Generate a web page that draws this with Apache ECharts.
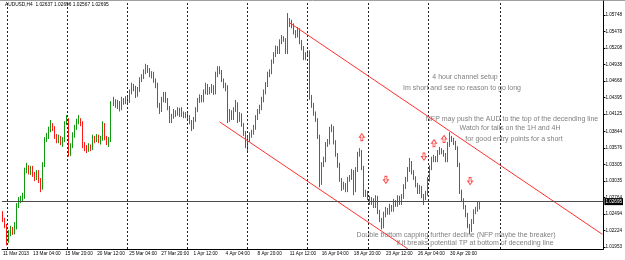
<!DOCTYPE html>
<html>
<head>
<meta charset="utf-8">
<script src="https://cdn.jsdelivr.net/npm/echarts@6/dist/echarts.min.js"></script>
<style>
html, body { margin: 0; padding: 0; background: #fff; }
#chart { width: 625px; height: 260px; }
</style>
</head>
<body>
<div id="chart"></div>
<script>
// AUDUSD H4, 8 Mar 2013 16:00 -> 3 May 2013 08:00
const symbol = 'AUDUSD,H4'
const firstOpen = 1.0251

const closes = [
  1.0239, 1.0230, 1.0210, 1.0218, 1.0224, 1.0220, 1.0230, 1.0262, 1.0272, 1.0274,
  1.0277, 1.0319, 1.0325, 1.0318, 1.0321, 1.0313, 1.0308, 1.0318, 1.0305, 1.0293,
  1.0329, 1.0370, 1.0375, 1.0387, 1.0395, 1.0390, 1.0375, 1.0370, 1.0374, 1.0367,
  1.0370, 1.0398, 1.0403, 1.0351, 1.0360, 1.0379, 1.0390, 1.0400, 1.0403, 1.0398,
  1.0362, 1.0357, 1.0354, 1.0360, 1.0357, 1.0374, 1.0370, 1.0375, 1.0369, 1.0372,
  1.0395, 1.0374, 1.0367, 1.0370, 1.0429, 1.0436, 1.0426, 1.0431, 1.0423, 1.0436,
  1.0432, 1.0437, 1.0434, 1.0449, 1.0459, 1.0455, 1.0444, 1.0452, 1.0468, 1.0473,
  1.0482, 1.0488, 1.0485, 1.0477, 1.0480, 1.0468, 1.0460, 1.0428, 1.0419, 1.0436,
  1.0444, 1.0436, 1.0423, 1.0403, 1.0408, 1.0416, 1.0413, 1.0419, 1.0411, 1.0414,
  1.0410, 1.0411, 1.0408, 1.0400, 1.0392, 1.0403, 1.0419, 1.0434, 1.0441, 1.0436,
  1.0449, 1.0459, 1.0449, 1.0452, 1.0457, 1.0449, 1.0477, 1.0488, 1.0482, 1.0468,
  1.0460, 1.0457, 1.0403, 1.0416, 1.0406, 1.0419, 1.0429, 1.0403, 1.0411, 1.0395,
  1.0382, 1.0362, 1.0370, 1.0379, 1.0382, 1.0390, 1.0406, 1.0416, 1.0423, 1.0436,
  1.0449, 1.0460, 1.0477, 1.0482, 1.0498, 1.0509, 1.0521, 1.0514, 1.0531, 1.0537,
  1.0534, 1.0514, 1.0558, 1.0563, 1.0558, 1.0547, 1.0542, 1.0550, 1.0531, 1.0521,
  1.0504, 1.0511, 1.0514, 1.0441, 1.0428, 1.0414, 1.0403, 1.0375, 1.0300, 1.0329,
  1.0338, 1.0362, 1.0367, 1.0387, 1.0390, 1.0367, 1.0346, 1.0329, 1.0305, 1.0292,
  1.0297, 1.0289, 1.0305, 1.0308, 1.0318, 1.0289, 1.0321, 1.0346, 1.0351, 1.0325,
  1.0280, 1.0284, 1.0275, 1.0267, 1.0272, 1.0262, 1.0275, 1.0253, 1.0239, 1.0230,
  1.0248, 1.0256, 1.0251, 1.0261, 1.0256, 1.0269, 1.0264, 1.0275, 1.0267, 1.0277,
  1.0293, 1.0305, 1.0321, 1.0333, 1.0318, 1.0308, 1.0297, 1.0285, 1.0292, 1.0279,
  1.0275, 1.0282, 1.0305, 1.0325, 1.0338, 1.0341, 1.0338, 1.0349, 1.0354, 1.0351,
  1.0346, 1.0338, 1.0362, 1.0374, 1.0370, 1.0365, 1.0357, 1.0329, 1.0285, 1.0272,
  1.0261, 1.0248, 1.0230, 1.0223, 1.0236, 1.0253, 1.0256, 1.02637, 1.02695
]

const highs = [
  1.0254, 1.0243, 1.0233, 1.0223, 1.0230, 1.0228, 1.0236, 1.0267, 1.0277, 1.0279,
  1.0284, 1.0325, 1.0333, 1.0329, 1.0328, 1.0328, 1.0318, 1.0321, 1.0321, 1.0308,
  1.0334, 1.0375, 1.0382, 1.0392, 1.0403, 1.0398, 1.0393, 1.0380, 1.0379, 1.0377,
  1.0375, 1.0401, 1.0411, 1.0406, 1.0365, 1.0383, 1.0395, 1.0405, 1.0411, 1.0406,
  1.0401, 1.0367, 1.0362, 1.0365, 1.0363, 1.0379, 1.0377, 1.0380, 1.0379, 1.0377,
  1.0401, 1.0398, 1.0377, 1.0375, 1.0434, 1.0441, 1.0437, 1.0436, 1.0434, 1.0441,
  1.0439, 1.0442, 1.0441, 1.0453, 1.0464, 1.0462, 1.0459, 1.0457, 1.0473, 1.0478,
  1.0486, 1.0495, 1.0493, 1.0488, 1.0483, 1.0482, 1.0471, 1.0464, 1.0431, 1.0441,
  1.0449, 1.0449, 1.0439, 1.0426, 1.0413, 1.0421, 1.0419, 1.0424, 1.0423, 1.0424,
  1.0417, 1.0416, 1.0414, 1.0411, 1.0403, 1.0408, 1.0424, 1.0439, 1.0445, 1.0444,
  1.0453, 1.0464, 1.0462, 1.0457, 1.0462, 1.0460, 1.0482, 1.0491, 1.0491, 1.0485,
  1.0471, 1.0464, 1.0460, 1.0421, 1.0419, 1.0424, 1.0436, 1.0432, 1.0416, 1.0414,
  1.0398, 1.0385, 1.0375, 1.0383, 1.0387, 1.0395, 1.0411, 1.0421, 1.0428, 1.0441,
  1.0453, 1.0465, 1.0482, 1.0486, 1.0502, 1.0514, 1.0525, 1.0524, 1.0535, 1.0542,
  1.0540, 1.0537, 1.0578, 1.0570, 1.0567, 1.0561, 1.0550, 1.0555, 1.0553, 1.0534,
  1.0524, 1.0514, 1.0517, 1.0517, 1.0444, 1.0431, 1.0417, 1.0406, 1.0379, 1.0334,
  1.0343, 1.0367, 1.0372, 1.0392, 1.0396, 1.0393, 1.0370, 1.0349, 1.0333, 1.0308,
  1.0302, 1.0300, 1.0310, 1.0313, 1.0323, 1.0321, 1.0326, 1.0351, 1.0357, 1.0354,
  1.0328, 1.0289, 1.0287, 1.0279, 1.0277, 1.0275, 1.0280, 1.0279, 1.0256, 1.0243,
  1.0253, 1.0261, 1.0259, 1.0266, 1.0264, 1.0274, 1.0272, 1.0280, 1.0279, 1.0282,
  1.0298, 1.0310, 1.0326, 1.0341, 1.0336, 1.0321, 1.0311, 1.0300, 1.0297, 1.0295,
  1.0282, 1.0287, 1.0310, 1.0329, 1.0343, 1.0346, 1.0344, 1.0354, 1.0359, 1.0357,
  1.0354, 1.0349, 1.0367, 1.0383, 1.0377, 1.0374, 1.0369, 1.0360, 1.0333, 1.0289,
  1.0275, 1.0264, 1.0251, 1.0233, 1.0241, 1.0257, 1.0261, 1.0269, 1.02696
]

const lows = [
  1.0236, 1.0226, 1.0198, 1.0202, 1.0213, 1.0215, 1.0216, 1.0224, 1.0259, 1.0267,
  1.0270, 1.0274, 1.0316, 1.0314, 1.0313, 1.0310, 1.0303, 1.0305, 1.0300, 1.0285,
  1.0289, 1.0326, 1.0367, 1.0372, 1.0383, 1.0385, 1.0372, 1.0365, 1.0365, 1.0362,
  1.0359, 1.0367, 1.0395, 1.0343, 1.0344, 1.0357, 1.0374, 1.0387, 1.0396, 1.0393,
  1.0357, 1.0352, 1.0349, 1.0351, 1.0352, 1.0354, 1.0365, 1.0367, 1.0365, 1.0363,
  1.0369, 1.0370, 1.0362, 1.0359, 1.0367, 1.0426, 1.0423, 1.0421, 1.0417, 1.0419,
  1.0428, 1.0429, 1.0429, 1.0431, 1.0445, 1.0450, 1.0439, 1.0441, 1.0449, 1.0465,
  1.0470, 1.0478, 1.0480, 1.0473, 1.0471, 1.0464, 1.0455, 1.0423, 1.0413, 1.0416,
  1.0432, 1.0431, 1.0419, 1.0398, 1.0398, 1.0405, 1.0408, 1.0410, 1.0408, 1.0408,
  1.0406, 1.0406, 1.0403, 1.0396, 1.0385, 1.0388, 1.0400, 1.0416, 1.0431, 1.0432,
  1.0432, 1.0445, 1.0444, 1.0445, 1.0447, 1.0444, 1.0445, 1.0473, 1.0478, 1.0465,
  1.0455, 1.0450, 1.0398, 1.0400, 1.0403, 1.0403, 1.0416, 1.0398, 1.0400, 1.0392,
  1.0377, 1.0357, 1.0351, 1.0367, 1.0374, 1.0379, 1.0387, 1.0403, 1.0413, 1.0419,
  1.0432, 1.0445, 1.0457, 1.0473, 1.0478, 1.0495, 1.0506, 1.0511, 1.0511, 1.0527,
  1.0531, 1.0511, 1.0511, 1.0555, 1.0553, 1.0543, 1.0537, 1.0538, 1.0527, 1.0517,
  1.0501, 1.0501, 1.0507, 1.0436, 1.0423, 1.0410, 1.0400, 1.0372, 1.0293, 1.0297,
  1.0326, 1.0334, 1.0359, 1.0363, 1.0383, 1.0363, 1.0343, 1.0325, 1.0302, 1.0287,
  1.0289, 1.0285, 1.0285, 1.0302, 1.0305, 1.0280, 1.0285, 1.0318, 1.0343, 1.0321,
  1.0277, 1.0277, 1.0272, 1.0264, 1.0264, 1.0259, 1.0259, 1.0249, 1.0236, 1.0224,
  1.0226, 1.0244, 1.0248, 1.0248, 1.0253, 1.0253, 1.0261, 1.0261, 1.0264, 1.0264,
  1.0274, 1.0290, 1.0302, 1.0318, 1.0314, 1.0305, 1.0293, 1.0282, 1.0282, 1.0275,
  1.0264, 1.0272, 1.0279, 1.0302, 1.0321, 1.0334, 1.0334, 1.0334, 1.0346, 1.0347,
  1.0343, 1.0334, 1.0334, 1.0359, 1.0367, 1.0362, 1.0354, 1.0326, 1.0282, 1.0269,
  1.0257, 1.0244, 1.0226, 1.0216, 1.0220, 1.0233, 1.0249, 1.0253, 1.02567
]

// price scale labels on the right
const yTickLabels = ['1.05748', '1.05478', '1.05208', '1.04938', '1.04668', '1.04395', '1.04125',
  '1.03844', '1.03576', '1.03305', '1.03035', '1.02764', '1.02494', '1.02224', '1.01953']

// time scale labels and the bar they sit on
const xTickLabels = ['11 Mar 2013', '13 Mar 04:00', '15 Mar 20:00', '20 Mar 12:00', '25 Mar 04:00',
  '27 Mar 20:00', '1 Apr 12:00', '4 Apr 04:00', '8 Apr 20:00', '11 Apr 12:00', '16 Apr 04:00',
  '18 Apr 20:00', '23 Apr 12:00', '26 Apr 04:00', '30 Apr 20:00']
const xTickBars = [0, 15, 31, 47, 63, 79, 95, 111, 127, 143, 159, 175, 191, 207, 223]

// weekly separators (Monday 00:00), the last one sits in the empty future area
const weekBars = [2, 32, 62, 92, 122, 152, 182, 212, 248]

// trend channel drawn on the chart: [bar, price] pairs
const upperChannel = [[143, 1.0562], [299, 1.0216]]
const lowerChannel = [[108, 1.0400], [202, 1.0192]]

// arrow objects
const arrowBars = [179, 191, 210, 215, 220, 233]
const arrowPrices = [1.0375, 1.0305, 1.0343, 1.0365, 1.0372, 1.0303]
const arrowDirs = ['up', 'down', 'down', 'up', 'up', 'down']

const notes = [
  ['4 hour channel setup', 465, 77],
  ['Im short and see no reason to go long', 462, 88],
  ['NFP may push the AUD to the top of the decending line', 512, 119],
  ['Watch for tails on the 1H and 4H', 510, 128],
  ['for good entry points for a short', 514, 139],
  ['Double bottom capping further decline (NFP maybe the breaker)', 456, 235],
  ['if it breaks potential TP at bottom of decending line', 475, 243]
]

const SLOTS = 300
const MONTHS = ['Jan', 'Feb', 'Mar', 'Apr', 'May', 'Jun', 'Jul', 'Aug', 'Sep', 'Oct', 'Nov', 'Dec']

// H4 bar times, weekends skipped (future slots keep the axis width)
const barTimes = []
let t = Date.UTC(2013, 2, 8, 16)
while (barTimes.length < SLOTS) {
  const d = new Date(t)
  const wd = d.getUTCDay()
  if (wd !== 0 && wd !== 6) {
    const hh = String(d.getUTCHours()).padStart(2, '0')
    barTimes.push(d.getUTCDate() + ' ' + MONTHS[d.getUTCMonth()] + ' ' + hh + ':00')
  }
  t += 4 * 3600 * 1000
}

const opens = closes.map((c, i) => i === 0 ? firstOpen : closes[i - 1])
const candles = closes.map((c, i) => [opens[i], c, lows[i], highs[i]])
const last = closes.length - 1
const lastPrice = closes[last]

const FONT = '"Liberation Sans", Arial, sans-serif'
const GREEN = '#139a13'
const RED = '#ff1a1a'

const chart = echarts.init(document.getElementById('chart'))

const isTickBar = (i) => xTickBars.indexOf(i) >= 0

const option = {
  animation: false,
  backgroundColor: '#fff',
  textStyle: { fontFamily: FONT },
  grid: { left: 0, right: 21, top: 1, bottom: 11 },
  xAxis: {
    type: 'category',
    data: barTimes,
    boundaryGap: true,
    axisLine: { lineStyle: { color: '#000', width: 1 } },
    axisTick: { alignWithLabel: true, length: 2, interval: isTickBar, lineStyle: { color: '#000' } },
    axisLabel: {
      interval: isTickBar,
      formatter: (v, i) => xTickLabels[xTickBars.indexOf(i)],
      align: 'left',
      fontSize: 4.7,
      color: '#000',
      margin: 2
    },
    splitLine: { show: false }
  },
  yAxis: {
    type: 'value',
    position: 'right',
    min: 1.0192,
    max: 1.05977,
    axisLine: { show: true, lineStyle: { color: '#000' } },
    axisTick: { show: true, length: 2, customValues: yTickLabels.map(Number), lineStyle: { color: '#000' } },
    axisLabel: {
      customValues: yTickLabels.map(Number),
      formatter: (v) => v.toFixed(5),
      fontSize: 4.6,
      color: '#000',
      margin: 2
    },
    splitLine: { show: false }
  },
  series: [
    {
      type: 'candlestick',
      data: candles,
      barWidth: 1,
      itemStyle: {
        color: GREEN,
        color0: RED,
        borderColor: GREEN,
        borderColor0: RED,
        borderWidth: 1
      },
      markLine: {
        silent: true,
        precision: 5,
        symbol: ['none', 'none'],
        animation: false,
        label: { show: false },
        data: [
          ...weekBars.map(b => ({ xAxis: b, lineStyle: { color: '#222', type: [2, 2], width: 1 } })),
          [
            { coord: upperChannel[0], lineStyle: { color: '#ff3030', type: 'solid', width: 1 } },
            { coord: upperChannel[1] }
          ],
          [
            { coord: lowerChannel[0], lineStyle: { color: '#ff3030', type: 'solid', width: 1 } },
            { coord: lowerChannel[1] }
          ],
          {
            yAxis: lastPrice,
            lineStyle: { color: '#4d4d4d', type: 'solid', width: 1 },
            label: {
              show: true,
              position: 'end',
              formatter: lastPrice.toFixed(5),
              color: '#fff',
              backgroundColor: '#000',
              fontSize: 4.6,
              padding: [1, 1],
              distance: 1
            }
          }
        ]
      }
    },
    {
      type: 'scatter',
      silent: true,
      symbol: 'path://M5,0 L10,5 L7,5 L7,10 L3,10 L3,5 L0,5 Z',
      symbolSize: [5, 7],
      itemStyle: { color: '#fff', borderColor: '#ff2020', borderWidth: 1 },
      data: arrowBars.map((b, i) => ({
        value: [b, arrowPrices[i]],
        symbolRotate: arrowDirs[i] === 'up' ? 0 : 180
      }))
    }
  ],
  graphic: [
    {
      type: 'line',
      shape: { x1: 0, y1: 0.5, x2: 625, y2: 0.5 },
      style: { stroke: '#a0a0a0', lineWidth: 1 },
      silent: true
    },
    {
      type: 'text',
      left: 5,
      top: 2,
      silent: true,
      style: {
        text: symbol + '  ' + [opens[last], highs[last], lows[last], closes[last]].map(v => v.toFixed(5)).join(' '),
        fill: '#000',
        fontSize: 4.8,
        fontFamily: FONT
      }
    },
    ...notes.map(n => ({
      type: 'text',
      x: n[1],
      y: n[2],
      silent: true,
      style: {
        text: n[0],
        fill: '#808080',
        fontSize: 7,
        fontFamily: FONT,
        align: 'center',
        verticalAlign: 'middle'
      }
    }))
  ]
}

chart.setOption(option)
</script>
</body>
</html>
